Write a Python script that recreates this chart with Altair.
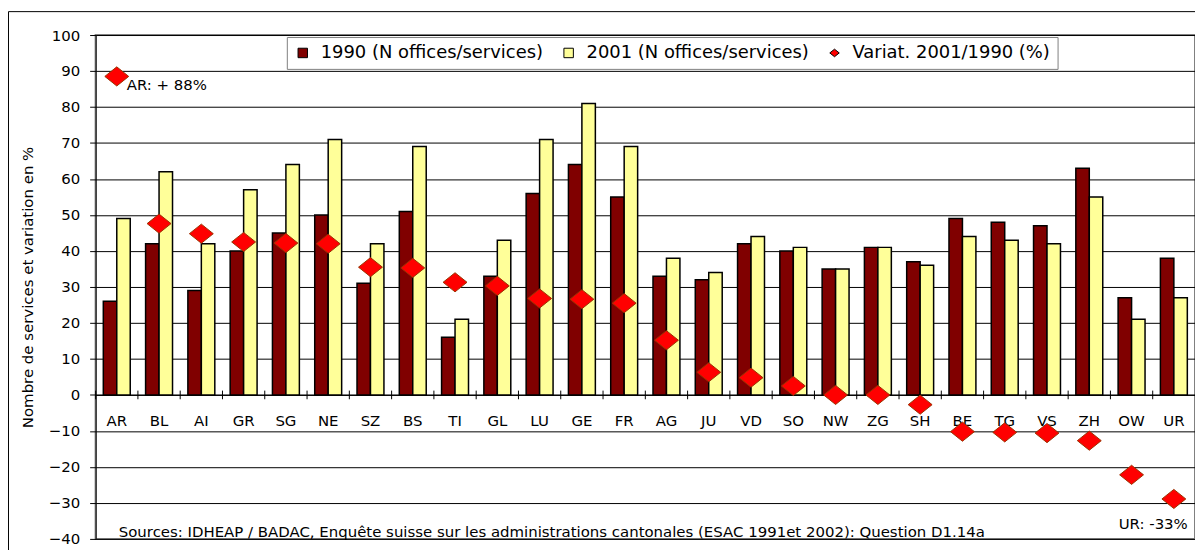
import altair as alt
import pandas as pd

cantons = ["AR", "BL", "AI", "GR", "SG", "NE", "SZ", "BS", "TI", "GL", "LU", "GE", "FR",
           "AG", "JU", "VD", "SO", "NW", "ZG", "SH", "BE", "TG", "VS", "ZH", "OW", "UR"]
n1990 = [26, 42, 29, 40, 45, 50, 31, 51, 16, 33, 56, 64, 55, 33, 32, 42, 40, 35, 41, 37, 49, 48, 47, 63, 27, 38]
n2001 = [49, 62, 42, 57, 64, 71, 42, 69, 21, 43, 71, 81, 69, 38, 34, 44, 41, 35, 41, 36, 44, 43, 42, 55, 21, 27]
variat = [88.5, 47.6, 44.8, 42.5, 42.2, 42.0, 35.5, 35.3, 31.3, 30.3, 26.8, 26.6, 25.5, 15.2,
          6.3, 4.8, 2.5, 0.0, 0.0, -2.7, -10.2, -10.4, -10.6, -12.7, -22.2, -28.9]
y_ticks = [-40, -30, -20, -10, 0, 10, 20, 30, 40, 50, 60, 70, 80, 90, 100]

series = ["1990 (N offices/services)", "2001 (N offices/services)", "Variat. 2001/1990 (%)"]
series_colors = ["#800000", "#FFFF99", "#FF0000"]
diamond = "M-1,0L0,-0.8L1,0L0,0.8Z"

y_title = "Nombre de services et variation en %"
source_text = ("Sources: IDHEAP / BADAC, Enquête suisse sur les administrations cantonales "
               "(ESAC 1991et 2002): Question D1.14a")
ar_note = "AR: + 88%"
ur_note = "UR: -33%"

FONT = "DejaVu Sans"
W, H = 1104, 506

bars_df = pd.DataFrame({
    "canton": cantons * 2,
    "series": [series[0]] * len(cantons) + [series[1]] * len(cantons),
    "value": n1990 + n2001,
})
var_df = pd.DataFrame({"canton": cantons, "series": [series[2]] * len(cantons), "value": variat})

color_scale = alt.Scale(domain=series, range=series_colors)
shape_scale = alt.Scale(domain=series, range=["square", "square", diamond])
legend = alt.Legend(title=None, orient="none", legendX=192, legendY=2, direction="horizontal",
                    columns=3)
xscale = alt.Scale(paddingInner=0, paddingOuter=0)
yscale = alt.Scale(domain=[-40, 100], nice=False, zero=False)

xaxis = alt.Axis(title=None, orient="bottom", offset=-H * 40 / 140, ticks=False,
                 tickSize=0, domainColor="black", domainWidth=1, labelAngle=0,
                 labelFontSize=15, labelFont=FONT, labelColor="black", labelPadding=19)
yaxis = alt.Axis(values=y_ticks, title=y_title, titleFont=FONT,
                 titleFontSize=15, titleFontWeight="normal", titleColor="black",
                 titleAngle=-90, titleX=-68, titleY=H / 2, titleBaseline="middle",
                 titleAlign="center", labelOverlap=False,
                 grid=True, gridColor="black", gridWidth=1, domainColor="black",
                 tickColor="black", tickSize=6, labelFontSize=15, labelFont=FONT,
                 labelColor="black", labelPadding=10)


def xenc(**kw):
    return alt.X("canton:N", sort=cantons, scale=xscale, axis=xaxis, **kw)


def yenc():
    return alt.Y("value:Q", scale=yscale, axis=yaxis)


frame = alt.Chart(pd.DataFrame({"a": [0]})).mark_rect(
    filled=False, stroke="black", strokeWidth=1
).encode(x=alt.value(-87.5), x2=alt.value(3000), y=alt.value(-23.5), y2=alt.value(3000))

bars = alt.Chart(bars_df).mark_bar(stroke="black", strokeWidth=1.5).encode(
    x=xenc(),
    xOffset=alt.XOffset("series:N", sort=series[:2],
                        scale=alt.Scale(paddingInner=0, paddingOuter=0.57)),
    y=yenc(),
    color=alt.Color("series:N", scale=color_scale, legend=legend),
)

ticks = alt.Chart(pd.DataFrame({"canton": cantons})).mark_rule(color="black", strokeWidth=1).encode(
    x=xenc(bandPosition=0),
    y=alt.datum(1.2, axis=yaxis),
    y2=alt.datum(-1.2),
)

points = alt.Chart(var_df).mark_point(
    filled=True, size=576, stroke="#993300", strokeWidth=1, opacity=1
).encode(
    x=xenc(),
    y=yenc(),
    color=alt.Color("series:N", scale=color_scale, legend=legend),
    shape=alt.Shape("series:N", scale=shape_scale, legend=legend),
)

ar_df = pd.DataFrame({"canton": ["AR"], "value": [86.0], "label": [ar_note]})
ur_df = pd.DataFrame({"canton": ["UR"], "value": [-36.0], "label": [ur_note]})
src_df = pd.DataFrame({"canton": ["AR"], "value": [-38.0], "label": [source_text]})

ar_text = alt.Chart(ar_df).mark_text(align="left", baseline="middle", dx=10, font=FONT,
                                     fontSize=15, color="black").encode(
    x=xenc(), y=yenc(), text="label:N")
ur_text = alt.Chart(ur_df).mark_text(align="right", baseline="middle", dx=14, font=FONT,
                                     fontSize=15, color="black").encode(
    x=xenc(), y=yenc(), text="label:N")
src_text = alt.Chart(src_df).mark_text(align="left", baseline="middle", dx=2, font=FONT,
                                       fontSize=15, color="black").encode(
    x=xenc(), y=yenc(), text="label:N")

chart = alt.layer(frame, bars, ticks, points, ar_text, ur_text, src_text).properties(
    width=W, height=H,
    autosize=alt.AutoSizeParams(type="none"),
    padding={"left": 88, "top": 26, "right": 0, "bottom": 10},
    background="white",
).configure_view(
    stroke="#808080", strokeWidth=2
).configure_legend(
    labelFont=FONT, labelFontSize=18, labelColor="black", labelLimit=400,
    padding=7, strokeColor="#808080", fillColor="white",
    symbolSize=90, symbolStrokeColor="black", symbolStrokeWidth=1,
    labelOffset=9, columnPadding=16, gridAlign="each",
)

chart.save("out.html", embed_options={"renderer": "svg", "actions": False})
